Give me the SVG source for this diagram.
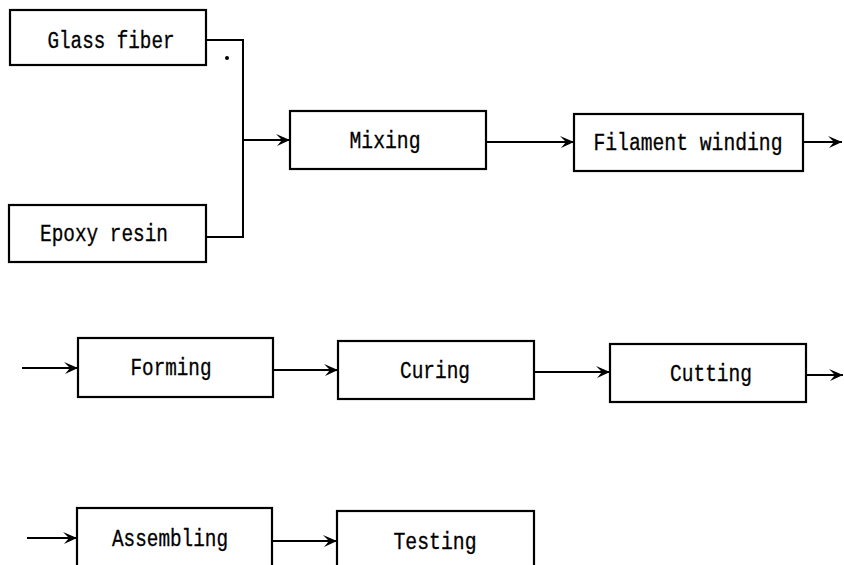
<svg xmlns="http://www.w3.org/2000/svg" width="844" height="565" viewBox="0 0 844 565">
  <defs>
    <marker id="arr" markerUnits="userSpaceOnUse" markerWidth="15" markerHeight="13" refX="14" refY="6" orient="auto">
      <path d="M0,0 L14,6 L1,12 L6,6 Z" fill="#000"/>
    </marker>
    <style>
      .box { fill: #fff; stroke: #000; stroke-width: 2.2; }
      .lbl { font-family: "Liberation Mono", "DejaVu Sans Mono", monospace; font-size: 23px; fill: #000; stroke: #000; stroke-width: 0.3; text-anchor: middle; }
      .con { fill: none; stroke: #000; stroke-width: 2; }
      .con .a { marker-end: url(#arr); }
    </style>
  </defs>
  <rect width="844" height="565" fill="#fff"/>

  <g id="connectors" class="con">
    <path d="M206,40 H243 V237 H206"/>
    <path class="a" d="M243,140 H290"/>
    <path class="a" d="M486,142 H574"/>
    <path class="a" d="M803,142 H842"/>
    <path class="a" d="M22,368 H78"/>
    <path class="a" d="M273,370 H338"/>
    <path class="a" d="M534,372 H610"/>
    <path class="a" d="M806,375 H843"/>
    <path class="a" d="M27,538 H77"/>
    <path class="a" d="M272,541 H337"/>
  </g>
  <circle id="dot" cx="227" cy="58" r="2" fill="#000"/>

  <g id="glass-fiber">
    <rect class="box" x="10" y="10" width="196" height="55"/>
    <text class="lbl" x="111" y="48" textLength="127" lengthAdjust="spacingAndGlyphs">Glass fiber</text>
  </g>
  <g id="epoxy-resin">
    <rect class="box" x="9" y="205" width="197" height="57"/>
    <text class="lbl" x="104" y="241" textLength="128" lengthAdjust="spacingAndGlyphs">Epoxy resin</text>
  </g>
  <g id="mixing">
    <rect class="box" x="290" y="111" width="196" height="58"/>
    <text class="lbl" x="385" y="148" textLength="71" lengthAdjust="spacingAndGlyphs">Mixing</text>
  </g>
  <g id="filament-winding">
    <rect class="box" x="574" y="114" width="229" height="57"/>
    <text class="lbl" x="688" y="150" textLength="189" lengthAdjust="spacingAndGlyphs">Filament winding</text>
  </g>
  <g id="forming">
    <rect class="box" x="78" y="338" width="195" height="59"/>
    <text class="lbl" x="171" y="375" textLength="81" lengthAdjust="spacingAndGlyphs">Forming</text>
  </g>
  <g id="curing">
    <rect class="box" x="338" y="341" width="196" height="58"/>
    <text class="lbl" x="435" y="378" textLength="70" lengthAdjust="spacingAndGlyphs">Curing</text>
  </g>
  <g id="cutting">
    <rect class="box" x="610" y="344" width="196" height="58"/>
    <text class="lbl" x="711" y="381" textLength="82" lengthAdjust="spacingAndGlyphs">Cutting</text>
  </g>
  <g id="assembling">
    <rect class="box" x="77" y="508" width="195" height="70"/>
    <text class="lbl" x="170" y="546" textLength="116" lengthAdjust="spacingAndGlyphs">Assembling</text>
  </g>
  <g id="testing">
    <rect class="box" x="337" y="511" width="197" height="70"/>
    <text class="lbl" x="435" y="549" textLength="83" lengthAdjust="spacingAndGlyphs">Testing</text>
  </g>
</svg>
